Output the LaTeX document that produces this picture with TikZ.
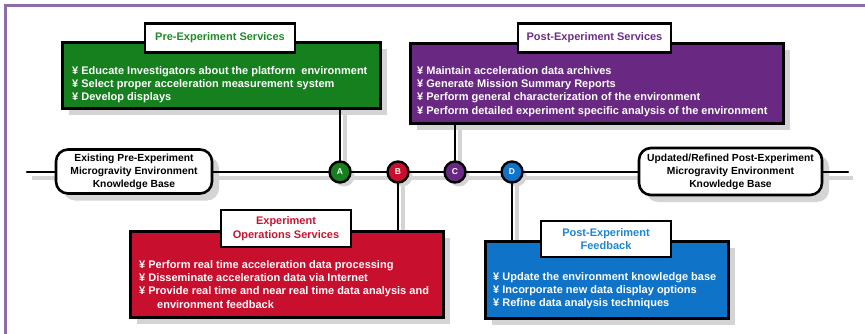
\documentclass[tikz,border=0pt]{standalone}
\usepackage{fontspec}
\setmainfont{Liberation Sans}
\usetikzlibrary{shadows}
\pgfdeclarelayer{bg}
\pgfsetlayers{bg,main}
\definecolor{framec}{RGB}{140,108,170}
\definecolor{shadowgray}{RGB}{212,212,212}
\definecolor{cgreen}{RGB}{22,128,30}
\definecolor{cgreentxt}{RGB}{30,140,40}
\definecolor{cpurple}{RGB}{105,40,130}
\definecolor{cpurpletxt}{RGB}{110,45,140}
\definecolor{cred}{RGB}{200,15,45}
\definecolor{credtxt}{RGB}{200,20,50}
\definecolor{cblue}{RGB}{15,115,200}
\definecolor{cbluetxt}{RGB}{30,135,210}
\begin{document}
\begin{tikzpicture}[x=1pt,y=-1pt,
  every node/.style={font=\fontsize{11}{13.4}\selectfont\bfseries},
  boxshade/.style={drop shadow={shadow xshift=7pt,shadow yshift=-7pt,fill=shadowgray,opacity=1}},
  dotshade/.style={drop shadow={shadow xshift=4pt,shadow yshift=-4pt,fill=shadowgray,opacity=1}},
  mainbox/.style={draw=black,line width=2.6pt,anchor=north west,inner sep=0pt,boxshade},
  titlebox/.style={draw=black,line width=2.6pt,fill=white,inner sep=0pt,align=center},
  listtext/.style={text=white,align=left,inner sep=0pt,anchor=north west},
  kbbox/.style={draw=black,line width=2.6pt,fill=white,rounded corners=12pt,inner sep=0pt,align=center,
     font=\fontsize{10.3}{13}\selectfont\bfseries,boxshade},
  dot/.style={circle,draw=black,line width=2.4pt,minimum size=21pt,inner sep=0pt,text=white,
     font=\fontsize{8.5}{8.5}\selectfont\bfseries,dotshade},
  wire/.style={line width=2.6pt,line cap=round},
  wireshadow/.style={line width=3.2pt,draw=shadowgray}
]
\useasboundingbox (0,0) rectangle (865,334);
\begin{pgfonlayer}{bg}
\fill[white] (0,0) rectangle (865,334);
\end{pgfonlayer}
% frame
\draw[framec,line width=3pt] (5,334) -- (5,6) -- (865,6);

% knowledge base boxes
\node[kbbox,minimum width=156pt,minimum height=44pt] (kbL) at (134,171.5)
  {Existing Pre-Experiment\\Microgravity Environment\\Knowledge Base};
\node[kbbox,minimum width=183pt,minimum height=47pt] (kbR) at (730.5,171.5)
  {Updated/Refined Post-Experiment\\Microgravity Environment\\Knowledge Base};
\coordinate (L0) at (27,172);
\coordinate (R0) at (848,172);

% main boxes
\node[mainbox,fill=cgreen,minimum width=318pt,minimum height=66pt] (green) at (61,41) {};
\node[mainbox,fill=cpurple,minimum width=373pt,minimum height=80pt] (purple) at (409,42) {};
\node[mainbox,fill=cred,minimum width=313pt,minimum height=86pt] (red) at (129,230) {};
\node[mainbox,fill=cblue,minimum width=243pt,minimum height=77pt] (blue) at (484,240) {};

% titles
\node[titlebox,text=cgreentxt,minimum width=150pt,minimum height=29pt] (greenT) at (220,38) {Pre-Experiment Services};
\node[titlebox,text=cpurpletxt,minimum width=153pt,minimum height=29pt] (purpleT) at (594.5,38) {Post-Experiment Services};
\node[titlebox,text=credtxt,minimum width=130pt,minimum height=37pt] (redT) at (286,228.5) {Experiment\\Operations Services};
\node[titlebox,text=cbluetxt,minimum width=130pt,minimum height=36pt] (blueT) at (606,239) {Post-Experiment\\Feedback};

% lists
\node[listtext] (greenL) at (72,66) {¥ Educate Investigators about the platform~ environment\\
¥ Select proper acceleration measurement system\\
¥ Develop displays};
\node[listtext] (purpleL) at (417,66) {¥ Maintain acceleration data archives\\
¥ Generate Mission Summary Reports\\
¥ Perform general characterization of the environment\\
¥ Perform detailed experiment specific analysis of the environment};
\node[listtext] (redL) at (139,260) {¥ Perform real time acceleration data processing\\
¥ Disseminate acceleration data via Internet\\
¥ Provide real time and near real time data analysis and\\
\hspace*{18pt}environment feedback};
\node[listtext] (blueL) at (493,272) {¥ Update the environment knowledge base\\
¥ Incorporate new data display options\\
¥ Refine data analysis techniques};

% milestone dots
\node[dot,fill=cgreen] (A) at (340,172) {A};
\node[dot,fill=cred] (B) at (398,172) {B};
\node[dot,fill=cpurple] (C) at (455,172) {C};
\node[dot,fill=cblue] (D) at (512,172) {D};

% wire shadows
\begin{pgfonlayer}{bg}
\draw[wireshadow] ([shift={(5,6)}]L0) -- ([shift={(5,6)}]R0);
\draw[wireshadow] ([xshift=5pt]A.center) -- ([xshift=5pt]A |- green.south);
\draw[wireshadow] ([xshift=5pt]B.center) -- ([xshift=5pt]B |- red.north);
\draw[wireshadow] ([xshift=5pt]C.center) -- ([xshift=5pt]C |- purple.south);
\draw[wireshadow] ([xshift=5pt]D.center) -- ([xshift=5pt]D |- blue.north);
\end{pgfonlayer}

% wires
\draw[wire] (L0) -- (L0 -| kbL.west);
\draw[wire] (A -| kbL.east) -- (A);
\draw (A) edge[wire] (B) (B) edge[wire] (C) (C) edge[wire] (D);
\draw[wire] (D) -- (D -| kbR.west);
\draw[wire] (R0 -| kbR.east) -- (R0);
\draw[wire] (A) -- (A |- green.south);
\draw[wire] (B) -- (B |- red.north);
\draw[wire] (C) -- (C |- purple.south);
\draw[wire] (D) -- (D |- blue.north);
\end{tikzpicture}
\end{document}
